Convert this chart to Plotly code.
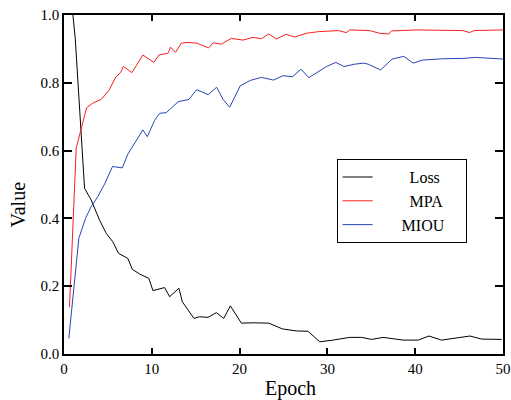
import plotly.graph_objects as go

# values (epoch, value) per curve
loss_epoch = [0.55, 1.28, 2.34, 3.1, 4.05, 4.81, 5.56, 6.21, 7.27, 7.78, 8.61, 9.67, 10.13, 11.46,
              12.03, 13.09, 13.48, 14.8, 15.45, 16.4, 17.35, 18.19, 18.95, 20.2, 21.53, 23.32,
              24.88, 26.48, 27.8, 29.13, 30.65, 32.55, 33.89, 35.03, 36.35, 38.63, 40.34, 41.56,
              43.01, 44.72, 46.24, 47.57, 49.85]
loss = [1.12, 0.931, 0.489, 0.454, 0.395, 0.356, 0.331, 0.297, 0.282, 0.25, 0.236, 0.223, 0.187, 0.196,
        0.169, 0.194, 0.154, 0.105, 0.11, 0.108, 0.122, 0.105, 0.142, 0.091, 0.092, 0.091,
        0.074, 0.068, 0.067, 0.036, 0.041, 0.049, 0.049, 0.043, 0.049, 0.041, 0.041, 0.053,
        0.041, 0.048, 0.053, 0.044, 0.043]

mpa_epoch = [0.63, 1.39, 2.57, 3.28, 4.24, 5.11, 5.87, 6.44, 6.78, 7.73, 8.99, 10.24, 10.81, 11.84,
             12.14, 12.71, 13.36, 14.12, 15.14, 16.48, 16.97, 17.92, 19.06, 20.39, 21.53, 22.49,
             23.32, 24.2, 25.26, 26.28, 27.6, 29.0, 31.3, 32.15, 32.55, 34.8, 35.97, 37.0, 37.3,
             40.16, 45.44, 46.18, 46.69, 50.0]
mpa = [0.139, 0.607, 0.726, 0.74, 0.751, 0.777, 0.816, 0.83, 0.848, 0.83, 0.882, 0.86, 0.882, 0.887,
       0.905, 0.89, 0.917, 0.919, 0.917, 0.903, 0.918, 0.914, 0.931, 0.926, 0.934, 0.93,
       0.944, 0.929, 0.943, 0.935, 0.946, 0.951, 0.954, 0.948, 0.956, 0.954, 0.946, 0.944, 0.953,
       0.956, 0.954, 0.948, 0.954, 0.956]

miou_epoch = [0.55, 1.69, 2.45, 3.1, 3.85, 4.62, 5.53, 6.64, 7.28, 8.04, 8.99, 9.49, 10.32, 10.89,
              11.65, 13.0, 14.23, 15.11, 16.42, 17.39, 18.11, 18.87, 19.82, 20.07, 21.21, 22.49,
              23.85, 24.95, 26.02, 27.0, 27.88, 29.9, 30.96, 31.89, 33.12, 34.15, 34.64, 36.05,
              37.37, 38.71, 39.77, 40.82, 43.19, 45.55, 46.86, 50.0]
miou = [0.046, 0.341, 0.4, 0.435, 0.464, 0.501, 0.553, 0.549, 0.59, 0.621, 0.661, 0.641, 0.689, 0.71,
        0.712, 0.744, 0.751, 0.78, 0.765, 0.787, 0.751, 0.728, 0.779, 0.791, 0.807, 0.816,
        0.808, 0.821, 0.818, 0.84, 0.815, 0.848, 0.86, 0.848, 0.855, 0.858, 0.855, 0.838,
        0.87, 0.878, 0.858, 0.867, 0.871, 0.872, 0.875, 0.87]

serif = "Liberation Serif"
pad = "\u00a0"  # legend text sits centred in the box in the original

fig = go.Figure()
fig.add_trace(go.Scatter(x=loss_epoch, y=loss, mode="lines", name=pad * 8 + "Loss",
                         line=dict(color="black", width=1)))
fig.add_trace(go.Scatter(x=mpa_epoch, y=mpa, mode="lines", name=pad * 8 + "MPA",
                         line=dict(color="rgb(250,30,30)", width=1)))
fig.add_trace(go.Scatter(x=miou_epoch, y=miou, mode="lines", name=pad * 6 + "MIOU" + pad * 4,
                         line=dict(color="rgb(40,70,180)", width=1)))

fig.update_layout(
    width=511, height=400,
    margin=dict(l=64, r=8, t=15, b=46),
    paper_bgcolor="white", plot_bgcolor="white",
    font=dict(family=serif, size=15, color="black"),
    showlegend=True,
    legend=dict(x=0.621, y=0.451, xanchor="left", yanchor="middle",
                bordercolor="black", borderwidth=1, bgcolor="white",
                font=dict(family=serif, size=16), tracegroupgap=0),
    annotations=[
        dict(text="Epoch", xref="paper", yref="paper", x=0.5165, y=-0.103,
             xanchor="center", yanchor="middle", showarrow=False, font=dict(size=20)),
        dict(text="Value", xref="paper", yref="paper", x=-0.107, y=0.441,
             xanchor="center", yanchor="middle", textangle=-90, showarrow=False,
             font=dict(size=20)),
    ],
)
fig.update_xaxes(range=[0, 50], dtick=10, showgrid=False, zeroline=False, automargin=False,
                 showline=True, linecolor="black", linewidth=1.5, mirror="ticks",
                 ticks="inside", ticklen=6, tickcolor="black", tickwidth=1.5,
                 ticklabelstandoff=0)
fig.update_yaxes(range=[0, 1], dtick=0.2, tickformat=".1f", showgrid=False, zeroline=False,
                 automargin=False,
                 showline=True, linecolor="black", linewidth=1.5, mirror="ticks",
                 ticks="inside", ticklen=8, tickcolor="black", tickwidth=1.5,
                 ticklabelstandoff=0)

# drop the default 8px body margin so the 511x400 figure fills the window
fig.write_html("out.html", config={"displayModeBar": False},
               post_script="document.body.style.margin = '0px';")
